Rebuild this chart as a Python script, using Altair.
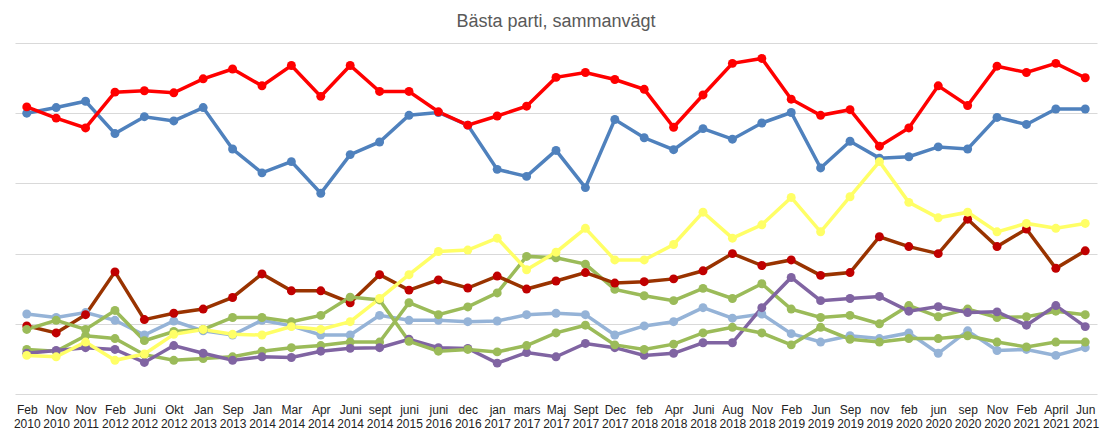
import altair as alt
import pandas as pd

periods = ["Feb 2010","Nov 2010","Nov 2011","Feb 2012","Juni 2012","Okt 2012","Jan 2013","Sep 2013",
           "Jan 2014","Mar 2014","Apr 2014","Juni 2014","sept 2014","juni 2015","juni 2016","dec 2016",
           "jan 2017","mars 2017","Maj 2017","Sept 2017","Dec 2017","feb 2018","Apr 2018","Juni 2018",
           "Aug 2018","Nov 2018","Feb 2019","Jun 2019","Sep 2019","nov 2019","feb 2020","jun 2020",
           "sep 2020","Nov 2020","Feb 2021","April 2021","Jun 2021"]

M = [40.0,40.8,41.7,37.1,39.5,38.9,40.8,34.9,31.5,33.1,28.6,34.1,35.9,39.7,40.1,38.3,32.0,31.0,34.7,29.4,
     39.1,36.5,34.8,37.8,36.3,38.6,40.1,32.2,36.0,33.6,33.8,35.2,34.9,39.4,38.4,40.6,40.6]
L = [11.4,10.9,11.6,10.5,8.4,10.4,9.0,8.4,10.5,9.7,8.4,8.4,11.2,10.5,10.5,10.3,10.4,11.3,11.5,11.3,
     8.4,9.7,10.3,12.3,10.8,11.4,8.6,7.4,8.3,7.9,8.7,5.8,9.0,6.2,6.35,5.5,6.6]
C = [6.35,6.1,8.3,7.9,5.6,4.8,5.05,5.3,6.1,6.6,6.9,7.4,7.4,13.0,11.3,12.4,14.4,19.6,19.4,18.5,
     14.9,14.0,13.3,15.05,13.6,15.7,12.1,10.9,11.2,10.0,12.6,11.0,12.1,10.9,11.0,11.8,11.3]
KD = [5.8,6.2,6.6,6.35,4.5,6.9,5.8,4.8,5.3,5.2,6.1,6.5,6.6,7.8,6.6,6.5,4.4,5.9,5.3,7.2,
      6.6,5.5,5.8,7.3,7.3,12.3,16.6,13.3,13.6,13.9,11.8,12.45,11.6,11.7,9.8,12.6,9.6]
S = [40.9,39.3,37.9,43.0,43.2,42.9,44.9,46.3,43.9,46.8,42.4,46.8,43.1,43.1,40.2,38.3,39.6,41.0,45.1,45.8,
     44.8,43.4,38.0,42.6,47.1,47.8,42.0,39.7,40.5,35.3,37.9,43.9,41.1,46.7,45.8,47.1,45.05]
V = [9.7,8.7,11.3,17.4,10.6,11.5,12.1,13.75,17.1,14.7,14.7,13.0,17.0,14.8,16.25,15.1,16.8,14.95,16.1,17.3,
     15.8,16.0,16.4,17.55,20.0,18.3,19.1,16.9,17.3,22.4,21.0,20.0,24.9,21.0,23.5,17.9,20.4]
MP = [9.2,10.5,9.2,11.9,7.6,8.9,9.2,10.9,10.9,10.3,11.2,13.8,13.4,7.5,6.1,6.35,6.0,6.9,8.7,9.8,
      7.0,6.35,7.1,8.7,9.5,8.7,7.0,9.5,7.8,7.4,7.9,7.9,8.3,7.4,6.7,7.4,7.4]
SD = [5.5,5.3,7.4,4.8,5.7,8.5,9.2,8.5,8.4,9.6,9.2,10.3,13.6,17.0,20.3,20.5,22.2,17.7,20.2,23.6,
      19.1,19.1,21.3,25.9,22.2,24.1,28.0,23.1,28.1,33.1,27.3,25.1,25.9,23.1,24.3,23.6,24.3]

parties = ["M","L","C","KD","S","V","MP","SD"]
series = [M, L, C, KD, S, V, MP, SD]
line_colors = ["#4f81bd","#95b3d7","#9bbb59","#8064a2","#ff0000","#993300","#9bbb59","#ffff66"]
marker_colors = ["#4f81bd","#95b3d7","#9bbb59","#8064a2","#ff0000","#c00000","#9bbb59","#ffff66"]
grid_values = [0, 10, 20, 30, 40, 50]

rows = []
for p, vals, mc in zip(parties, series, marker_colors):
    for per, v in zip(periods, vals):
        rows.append({"period": per, "party": p, "value": v, "mc": mc})
df = pd.DataFrame(rows)

x = alt.X("period:N", sort=periods, scale=alt.Scale(type="point", padding=0.4),
          axis=alt.Axis(title=None, labelAngle=0, ticks=False, domain=False, grid=False,
                        labelExpr="split(datum.label, ' ')", labelFontSize=12,
                        labelColor="#222", labelFont="Liberation Sans", labelPadding=10))
y = alt.Y("value:Q", scale=alt.Scale(domain=[0, 50], nice=False),
          axis=alt.Axis(title=None, labels=False, ticks=False, domain=False,
                        values=grid_values, gridColor="#d9d9d9"))

lines = alt.Chart(df).mark_line(strokeWidth=3.5).encode(
    x=x, y=y,
    color=alt.Color("party:N", scale=alt.Scale(domain=parties, range=line_colors),
                    sort=parties,
                    legend=alt.Legend(title=None, orient="none", legendX=85, legendY=383,
                                      direction="horizontal",
                                      columns=8, symbolType="stroke", symbolStrokeWidth=3.5,
                                      symbolSize=500, labelFontSize=12, columnPadding=72,
                                      labelFont="Liberation Sans", labelColor="#333")),
    detail="party:N",
)
points = alt.Chart(df).mark_circle(size=80, opacity=1).encode(
    x=x, y=y, color=alt.Color("mc:N", scale=None), detail="party:N"
)

chart = alt.layer(lines, points).properties(
    width=1096, height=426,
    autosize=alt.AutoSizeParams(type="fit", contains="padding"),
    title=alt.TitleParams("Bästa parti, sammanvägt", fontSize=18, font="Liberation Sans",
                          fontWeight="normal", color="#595959", offset=12),
).configure_view(stroke=None)

chart.save("out.html", embed_options={"renderer": "svg", "actions": False})
